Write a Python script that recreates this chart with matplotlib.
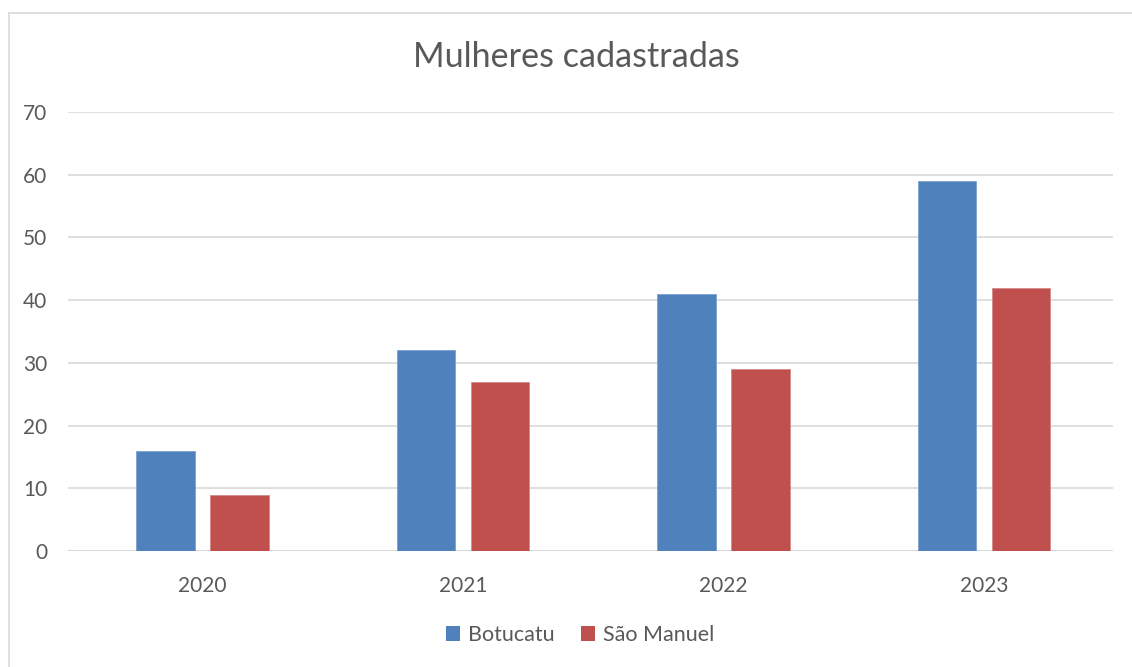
import matplotlib
matplotlib.use("Agg")
import matplotlib.pyplot as plt
from matplotlib.lines import Line2D
from matplotlib.patches import Patch
import numpy as np

years = ["2020", "2021", "2022", "2023"]
botucatu = [16, 32, 41, 59]
sao_manuel = [9, 27, 29, 42]
series_names = ["Botucatu", "São Manuel"]
colors = ["#4F81BD", "#C0504D"]
title = "Mulheres cadastradas"

plt.rcParams['font.family'] = ['Lato', 'DejaVu Sans']

W, H = 1132, 667
fig = plt.figure(figsize=(W/100, H/100), dpi=100)
ax = fig.add_axes([68/W, 1-551/H, (1113-68)/W, (551-112)/H])

x = np.arange(len(years))
bw = 0.226
off = 0.142
ax.bar(x - off, botucatu, bw, color=colors[0], edgecolor="#7BA0D0", linewidth=0.6, zorder=3)
ax.bar(x + off, sao_manuel, bw, color=colors[1], edgecolor="#D48A88", linewidth=0.6, zorder=3)

ax.set_xlim(-0.516, 3.495)
ax.set_ylim(0, 70)
ax.set_yticks(range(0, 71, 10))
ax.set_xticks(x)
ax.set_xticklabels(years)
ax.grid(axis='y', color="#D9D9D9", linewidth=1.2, zorder=0)
for s in ax.spines.values():
    s.set_visible(False)
ax.axhline(0, color="#D9D9D9", linewidth=1.5, zorder=2)
ax.tick_params(axis='both', length=0, labelsize=15, labelcolor="#595959")
ax.tick_params(axis='x', pad=18)
ax.tick_params(axis='y', pad=15)

fig.text(576/W, 1-57/H, title, ha='center', va='center', fontsize=24.6, color="#595959")

handles = [Patch(facecolor=colors[0]), Patch(facecolor=colors[1])]
fig.legend(handles, series_names, loc='center', bbox_to_anchor=(580/W, 1-635/H),
           ncol=2, frameon=False, fontsize=15.5, labelcolor="#595959",
           handlelength=0.65, handleheight=0.65, handletextpad=0.4, columnspacing=1.2)

# chart border (partially visible)
fig.add_artist(Line2D([8.5/W, 8.5/W], [0, 1-12.5/H], transform=fig.transFigure, color="#D9D9D9", linewidth=1.2))
fig.add_artist(Line2D([8.5/W, 1], [1-12.5/H, 1-12.5/H], transform=fig.transFigure, color="#D9D9D9", linewidth=1.2))

fig.savefig("out.png", dpi=100)
